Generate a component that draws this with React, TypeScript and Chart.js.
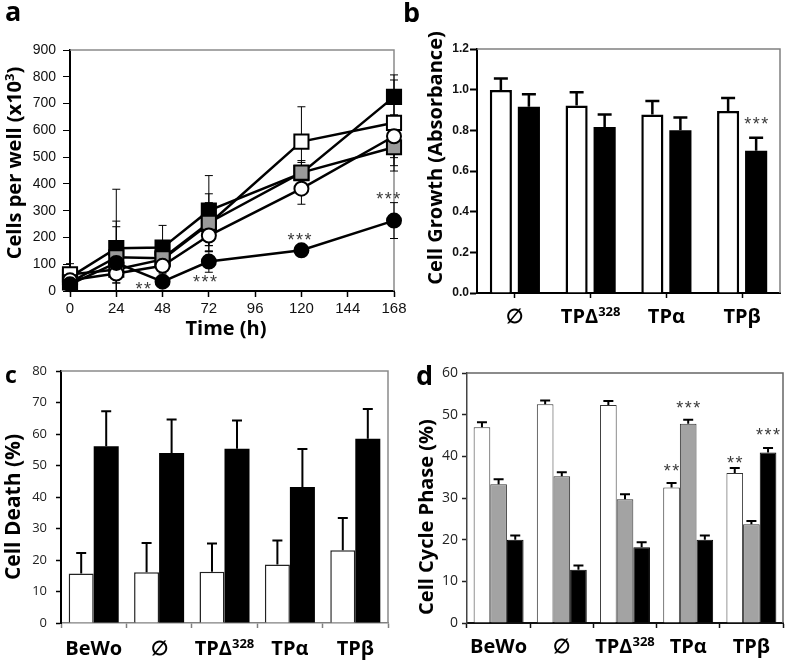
import React, { useEffect, useRef } from "react";
import { Chart, registerables } from "chart.js";
Chart.register(...registerables);

// ---------------- Panel a: cells per well over time ----------------
const timeHours = [0, 24, 48, 72, 120, 168];
const cellsBlackCircle = [25, 105, 35, 110, 152, 263];
const errBlackCircle = [15, 135, 15, 40, 20, 67];
const cellsWhiteCircle = [40, 65, 94, 207, 382, 578];
const errWhiteCircle = [20, 35, 30, 60, 58, 80];
const cellsGraySquare = [32, 126, 122, 255, 442, 537];
const errGraySquare = [15, 135, 40, 108, 45, 89];
const cellsWhiteSquare = [62, 80, 118, 250, 558, 628];
const errWhiteSquare = [40, 50, 30, 80, 130, 160];
const cellsBlackSquare = [52, 160, 162, 300, 440, 725];
const errBlackSquare = [20, 220, 83, 131, 40, 82];
const sigTimeA = [38, 70, 119, 165];
const sigCellsA = [22, 48, 204, 360];
const sigTextA = ["**", "***", "***", "***"];

// ---------------- Panel b: cell growth ----------------
const groupsB = ["∅", "TPΔ³²⁸", "TPα", "TPβ"];
const growthOpen = [0.998, 0.922, 0.878, 0.895];
const growthOpenErr = [0.057, 0.065, 0.066, 0.064];
const growthFilled = [0.916, 0.817, 0.8, 0.699];
const growthFilledErr = [0.062, 0.061, 0.063, 0.064];
const sigGroupB = [3];
const sigSeriesB = [1];
const sigValueB = [0.85];
const sigTextB = ["***"];

// ---------------- Panel c: cell death ----------------
const groupsCD = ["BeWo", "∅", "TPΔ³²⁸", "TPα", "TPβ"];
const deathOpen = [15.7, 16.1, 16.3, 18.6, 23.1];
const deathOpenErr = [6.5, 9.3, 8.9, 7.6, 10.2];
const deathFilled = [56.1, 54.0, 55.3, 43.2, 58.5];
const deathFilledErr = [11.1, 10.6, 9.0, 12.0, 9.4];

// ---------------- Panel d: cell cycle phase ----------------
const phaseWhite = [47.0, 52.5, 52.3, 32.5, 36.0];
const phaseWhiteErr = [1.2, 0.9, 1.0, 1.1, 1.2];
const phaseGray = [33.3, 35.2, 29.7, 47.8, 23.7];
const phaseGrayErr = [1.2, 1.0, 1.2, 1.0, 0.8];
const phaseBlack = [20.0, 12.8, 18.2, 20.0, 40.9];
const phaseBlackErr = [1.0, 1.0, 1.2, 1.0, 1.1];
const sigGroupD = [3, 3, 4, 4];
const sigSeriesD = [0, 1, 0, 2];
const sigValueD = [37.4, 52.5, 39.4, 46.1];
const sigTextD = ["**", "***", "**", "***"];

// ---------------- helpers ----------------
const SUPS = "⁰¹²³⁴⁵⁶⁷⁸⁹";
function textRuns(text: string) {
  const out: { t: string; sup: boolean }[] = [];
  for (const ch of text) {
    const k = SUPS.indexOf(ch);
    const sup = k >= 0;
    const c = sup ? String(k) : ch;
    if (out.length && out[out.length - 1].sup === sup) out[out.length - 1].t += c;
    else out.push({ t: c, sup });
  }
  return out;
}

type TextOpt = {
  size: number;
  weight?: string;
  family?: string;
  color?: string;
  align?: "center" | "left";
  rotate?: number;
};

function richText(ctx: CanvasRenderingContext2D, text: string, x: number, y: number, o: TextOpt) {
  const weight = o.weight ?? "bold";
  const family = o.family ?? "'Open Sans', sans-serif";
  ctx.save();
  ctx.translate(x, y);
  if (o.rotate) ctx.rotate(o.rotate);
  ctx.fillStyle = o.color ?? "#000";
  ctx.textBaseline = "alphabetic";
  ctx.textAlign = "left";
  const parts = textRuns(text);
  const fontOf = (sup: boolean) => `${weight} ${sup ? Math.round(o.size * 0.64) : o.size}px ${family}`;
  let total = 0;
  const widths = parts.map((p) => {
    ctx.font = fontOf(p.sup);
    const w = ctx.measureText(p.t).width;
    total += w;
    return w;
  });
  let cx = o.align === "left" ? 0 : -total / 2;
  parts.forEach((p, i) => {
    ctx.font = fontOf(p.sup);
    ctx.fillText(p.t, cx, p.sup ? -o.size * 0.36 : 0);
    cx += widths[i];
  });
  ctx.restore();
}

function stars(ctx: CanvasRenderingContext2D, text: string, x: number, yCenter: number) {
  ctx.save();
  ctx.font = "18px 'Liberation Sans', Arial, sans-serif";
  (ctx as any).letterSpacing = "1.5px";
  ctx.fillStyle = "#3a3a3a";
  ctx.textAlign = "center";
  ctx.textBaseline = "alphabetic";
  ctx.fillText(text, x + 0.75, yCenter + 10);
  ctx.restore();
}

type Rect = { left: number; top: number; right: number; bottom: number };

function framePlugin(color: string, width: number) {
  return {
    id: "frame",
    beforeDatasetsDraw(chart: any) {
      const { ctx, chartArea: a } = chart;
      ctx.save();
      ctx.strokeStyle = color;
      ctx.lineWidth = width;
      ctx.beginPath();
      ctx.moveTo(a.left, a.top);
      ctx.lineTo(a.right, a.top);
      ctx.lineTo(a.right, a.bottom);
      ctx.stroke();
      ctx.restore();
    },
  };
}

type Label = { text: string; x: number; y: number; size: number; rotate?: number; align?: "center" | "left"; weight?: string };

function labelsPlugin(labels: Label[]) {
  return {
    id: "labels",
    afterDraw(chart: any) {
      const ctx = chart.ctx;
      labels.forEach((l) =>
        richText(ctx, l.text, l.x, l.y, { size: l.size, rotate: l.rotate, align: l.align, weight: l.weight })
      );
    },
  };
}

// ---------------- panel a config ----------------
function makeA(W: number, H: number) {
  const rect: Rect = { left: 70, top: 50, right: 394, bottom: 291 };
  const series = [
    { label: "TPβ", y: cellsBlackCircle, err: errBlackCircle, style: "circle", fill: "#000" },
    { label: "TPα", y: cellsWhiteCircle, err: errWhiteCircle, style: "circle", fill: "#fff" },
    { label: "TPΔ328", y: cellsGraySquare, err: errGraySquare, style: "rect", fill: "#9a9a9a" },
    { label: "BeWo", y: cellsWhiteSquare, err: errWhiteSquare, style: "rect", fill: "#fff" },
    { label: "∅", y: cellsBlackSquare, err: errBlackSquare, style: "rect", fill: "#000" },
  ];
  const datasets = series.map((s) => ({
    label: s.label,
    data: timeHours.map((t, i) => ({ x: t, y: s.y[i] })),
    borderColor: "#000",
    borderWidth: 2.5,
    pointStyle: s.style,
    pointRadius: s.style === "rect" ? 10 : 7,
    pointBackgroundColor: s.fill,
    pointBorderColor: "#000",
    pointBorderWidth: 2,
    tension: 0,
    clip: false as any,
  }));
  const errPlugin = {
    id: "errA",
    beforeDatasetsDraw(chart: any) {
      const { ctx, chartArea: a } = chart;
      const xs = chart.scales.x;
      const ys = chart.scales.y;
      ctx.save();
      ctx.beginPath();
      ctx.rect(a.left - 10, a.top - 20, a.right - a.left + 20, a.bottom - a.top + 20);
      ctx.clip();
      ctx.strokeStyle = "#000";
      ctx.lineWidth = 1;
      series.forEach((s) => {
        timeHours.forEach((t, i) => {
          const px = xs.getPixelForValue(t);
          const hi = ys.getPixelForValue(s.y[i] + s.err[i]);
          const lo = ys.getPixelForValue(s.y[i] - s.err[i]);
          ctx.beginPath();
          ctx.moveTo(px, hi);
          ctx.lineTo(px, lo);
          ctx.moveTo(px - 4, hi);
          ctx.lineTo(px + 4, hi);
          ctx.moveTo(px - 4, lo);
          ctx.lineTo(px + 4, lo);
          ctx.stroke();
        });
      });
      ctx.restore();
    },
  };
  const sigPlugin = {
    id: "sigA",
    afterDraw(chart: any) {
      const xs = chart.scales.x;
      const ys = chart.scales.y;
      sigTextA.forEach((t, i) => stars(chart.ctx, t, xs.getPixelForValue(sigTimeA[i]), ys.getPixelForValue(sigCellsA[i])));
    },
  };
  const labels: Label[] = [
    { text: "a", x: 5, y: 21, size: 27, align: "left" },
    { text: "Cells per well (x10³)", x: 21, y: 163, size: 20, rotate: -Math.PI / 2 },
    { text: "Time (h)", x: 226, y: 335, size: 20 },
  ];
  return {
    type: "line",
    data: { datasets },
    options: {
      responsive: false,
      maintainAspectRatio: false,
      animation: false,
      layout: { autoPadding: false, padding: { top: rect.top, right: W - rect.right, left: 0, bottom: 0 } },
      plugins: { legend: { display: false }, tooltip: { enabled: false } },
      scales: {
        x: {
          type: "linear",
          min: 0,
          max: 168,
          afterFit: (s: any) => { s.height = H - rect.bottom; s.paddingLeft = 0; s.paddingRight = 0; },
          ticks: { stepSize: 24, font: { family: "'Liberation Sans', Arial, sans-serif", size: 15 }, color: "#111", padding: 3, maxRotation: 0, autoSkip: false },
          grid: { drawOnChartArea: false, drawTicks: true, tickLength: 6, tickColor: "#000", tickWidth: 1.5 },
          border: { display: true, color: "#000", width: 2 },
        },
        y: {
          min: 0,
          max: 900,
          afterFit: (s: any) => { s.width = rect.left; s.paddingTop = 0; s.paddingBottom = 0; },
          ticks: { stepSize: 100, font: { family: "'Liberation Sans', Arial, sans-serif", size: 14 }, color: "#111", padding: 7 },
          grid: { drawOnChartArea: false, drawTicks: true, tickLength: 7, tickColor: "#000", tickWidth: 1 },
          border: { display: true, color: "#000", width: 2 },
        },
      },
    },
    plugins: [framePlugin("#8a8a8a", 1.5), errPlugin, sigPlugin, labelsPlugin(labels)],
  };
}

// ---------------- generic bar panel ----------------
type BarSeries = { label: string; data: number[]; err: number[]; bg: string; border: string; bw: number };
type BarSpec = {
  W: number;
  H: number;
  rect: Rect;
  groups: string[];
  series: BarSeries[];
  yMax: number;
  step: number;
  yFmt: (v: number) => string;
  yFont: any;
  yColor: string;
  yTickLen: number;
  yPad: number;
  yTickWidth: number;
  yTickColor: string;
  leftAxis: [string, number];
  bottomAxis: [string, number];
  frame: [string, number];
  xTickLen: number;
  xTickColor: string;
  xTickWidth: number;
  xGridOffset: boolean;
  catPct: number;
  barPct: number;
  errW: number;
  errCap: number;
  catSize: number;
  catBaseline: number;
  sigGroup: number[];
  sigSeries: number[];
  sigValue: number[];
  sigText: string[];
  labels: Label[];
};

function makeBar(p: BarSpec) {
  const datasets = p.series.map((s) => ({
    label: s.label,
    data: s.data,
    backgroundColor: s.bg,
    borderColor: s.border,
    borderWidth: s.bw,
    categoryPercentage: p.catPct,
    barPercentage: p.barPct,
  }));
  const errPlugin = {
    id: "err",
    afterDatasetsDraw(chart: any) {
      const { ctx } = chart;
      const ys = chart.scales.y;
      ctx.save();
      ctx.strokeStyle = "#000";
      ctx.lineWidth = p.errW;
      ctx.lineCap = "butt";
      p.series.forEach((s, di) => {
        const meta = chart.getDatasetMeta(di);
        s.data.forEach((v, i) => {
          const el = meta.data[i];
          const x = el.x;
          const y0 = ys.getPixelForValue(v);
          const y1 = ys.getPixelForValue(v + s.err[i]);
          ctx.beginPath();
          ctx.moveTo(x, y0);
          ctx.lineTo(x, y1);
          ctx.moveTo(x - p.errCap, y1);
          ctx.lineTo(x + p.errCap, y1);
          ctx.stroke();
        });
      });
      ctx.restore();
    },
  };
  const catPlugin = {
    id: "cats",
    afterDraw(chart: any) {
      const xs = chart.scales.x;
      const ys = chart.scales.y;
      p.groups.forEach((g, i) => {
        richText(chart.ctx, g, xs.getPixelForValue(i), p.catBaseline, { size: p.catSize });
      });
      p.sigText.forEach((t, k) => {
        const el = chart.getDatasetMeta(p.sigSeries[k]).data[p.sigGroup[k]];
        stars(chart.ctx, t, el.x, ys.getPixelForValue(p.sigValue[k]));
      });
    },
  };
  return {
    type: "bar",
    data: { labels: p.groups, datasets },
    options: {
      responsive: false,
      maintainAspectRatio: false,
      animation: false,
      layout: { autoPadding: false, padding: { top: p.rect.top, right: p.W - p.rect.right, left: 0, bottom: 0 } },
      plugins: { legend: { display: false }, tooltip: { enabled: false } },
      scales: {
        x: {
          type: "category",
          offset: true,
          afterFit: (s: any) => { s.height = p.H - p.rect.bottom; s.paddingLeft = 0; s.paddingRight = 0; },
          ticks: { display: false },
          grid: { offset: p.xGridOffset, drawOnChartArea: false, drawTicks: true, tickLength: p.xTickLen, tickColor: p.xTickColor, tickWidth: p.xTickWidth },
          border: { display: true, color: p.bottomAxis[0], width: p.bottomAxis[1] },
        },
        y: {
          min: 0,
          max: p.yMax,
          afterFit: (s: any) => { s.width = p.rect.left; s.paddingTop = 0; s.paddingBottom = 0; },
          ticks: { stepSize: p.step, font: p.yFont, color: p.yColor, padding: p.yPad, callback: (v: any) => p.yFmt(Number(v)) },
          grid: { drawOnChartArea: false, drawTicks: true, tickLength: p.yTickLen, tickColor: p.yTickColor, tickWidth: p.yTickWidth },
          border: { display: true, color: p.leftAxis[0], width: p.leftAxis[1] },
        },
      },
    },
    plugins: [framePlugin(p.frame[0], p.frame[1]), errPlugin, catPlugin, labelsPlugin(p.labels)],
  };
}

function makeB(W: number, H: number) {
  return makeBar({
    W, H,
    rect: { left: 77, top: 49, right: 380, bottom: 293 },
    groups: groupsB,
    series: [
      { label: "control", data: growthOpen, err: growthOpenErr, bg: "#fff", border: "#000", bw: 2.5 },
      { label: "treated", data: growthFilled, err: growthFilledErr, bg: "#000", border: "#000", bw: 0 },
    ],
    yMax: 1.2, step: 0.2, yFmt: (v) => v.toFixed(1),
    yFont: { family: "'Liberation Sans', Arial, sans-serif", size: 12, weight: "bold" },
    yColor: "#111", yTickLen: 7, yPad: 1, yTickWidth: 2, yTickColor: "#000",
    leftAxis: ["#000", 2], bottomAxis: ["#000", 2], frame: ["#808080", 1.5],
    xTickLen: 5, xTickColor: "#000", xTickWidth: 1.5, xGridOffset: false,
    catPct: 0.74, barPct: 0.79, errW: 2.5, errCap: 7,
    catSize: 20, catBaseline: 323,
    sigGroup: sigGroupB, sigSeries: sigSeriesB, sigValue: sigValueB, sigText: sigTextB,
    labels: [
      { text: "b", x: 3, y: 22, size: 27, align: "left" },
      { text: "Cell Growth (Absorbance)", x: 42, y: 158, size: 20, rotate: -Math.PI / 2 },
    ],
  });
}

function makeC(W: number, H: number) {
  return makeBar({
    W, H,
    rect: { left: 61, top: 26, right: 388, bottom: 278 },
    groups: groupsCD,
    series: [
      { label: "control", data: deathOpen, err: deathOpenErr, bg: "#fff", border: "#222", bw: 1.5 },
      { label: "treated", data: deathFilled, err: deathFilledErr, bg: "#000", border: "#000", bw: 0 },
    ],
    yMax: 80, step: 10, yFmt: (v) => String(v),
    yFont: { family: "'Open Sans', sans-serif", size: 13 },
    yColor: "#222", yTickLen: 5, yPad: 9, yTickWidth: 1.5, yTickColor: "#000",
    leftAxis: ["#000", 2], bottomAxis: ["#808080", 1.5], frame: ["#8a8a8a", 1.5],
    xTickLen: 5, xTickColor: "#808080", xTickWidth: 1.5, xGridOffset: true,
    catPct: 0.765, barPct: 1, errW: 2, errCap: 5,
    catSize: 20, catBaseline: 310,
    sigGroup: [], sigSeries: [], sigValue: [], sigText: [],
    labels: [
      { text: "c", x: 5, y: 38, size: 23, align: "left" },
      { text: "Cell Death (%)", x: 20, y: 162, size: 21, rotate: -Math.PI / 2 },
    ],
  });
}

function makeD(W: number, H: number) {
  return makeBar({
    W, H,
    rect: { left: 67, top: 28, right: 383, bottom: 278 },
    groups: groupsCD,
    series: [
      { label: "G0/G1", data: phaseWhite, err: phaseWhiteErr, bg: "#fff", border: "#333", bw: 1 },
      { label: "S", data: phaseGray, err: phaseGrayErr, bg: "#a3a3a3", border: "#333", bw: 1 },
      { label: "G2/M", data: phaseBlack, err: phaseBlackErr, bg: "#000", border: "#000", bw: 1 },
    ],
    yMax: 60, step: 10, yFmt: (v) => String(v),
    yFont: { family: "'Open Sans', sans-serif", size: 14 },
    yColor: "#222", yTickLen: 5, yPad: 4, yTickWidth: 1.5, yTickColor: "#222",
    leftAxis: ["#444", 1.5], bottomAxis: ["#111", 2], frame: ["#666", 1.5],
    xTickLen: 5, xTickColor: "#111", xTickWidth: 1.5, xGridOffset: true,
    catPct: 0.79, barPct: 1, errW: 2, errCap: 5,
    catSize: 20, catBaseline: 308,
    sigGroup: sigGroupD, sigSeries: sigSeriesD, sigValue: sigValueD, sigText: sigTextD,
    labels: [
      { text: "d", x: 16, y: 40, size: 27, align: "left" },
      { text: "Cell Cycle Phase (%)", x: 33, y: 172, size: 20, rotate: -Math.PI / 2 },
    ],
  });
}

function Panel({ x, y, w, h, make }: { x: number; y: number; w: number; h: number; make: (w: number, h: number) => any }) {
  const ref = useRef<HTMLCanvasElement>(null);
  useEffect(() => {
    const chart = new Chart(ref.current as HTMLCanvasElement, make(w, h));
    return () => chart.destroy();
  }, []);
  return (
    <div style={{ position: "absolute", left: x, top: y, width: w, height: h }}>
      <canvas ref={ref} width={w} height={h} style={{ width: w, height: h, display: "block" }} />
    </div>
  );
}

export default function App() {
  return (
    <div style={{ position: "absolute", left: 0, top: 0, width: 787, height: 660, background: "#fff", overflow: "hidden" }}>
      <Panel x={0} y={0} w={414} h={345} make={makeA} />
      <Panel x={400} y={0} w={387} h={345} make={makeB} />
      <Panel x={0} y={345} w={400} h={315} make={makeC} />
      <Panel x={400} y={345} w={387} h={315} make={makeD} />
    </div>
  );
}
